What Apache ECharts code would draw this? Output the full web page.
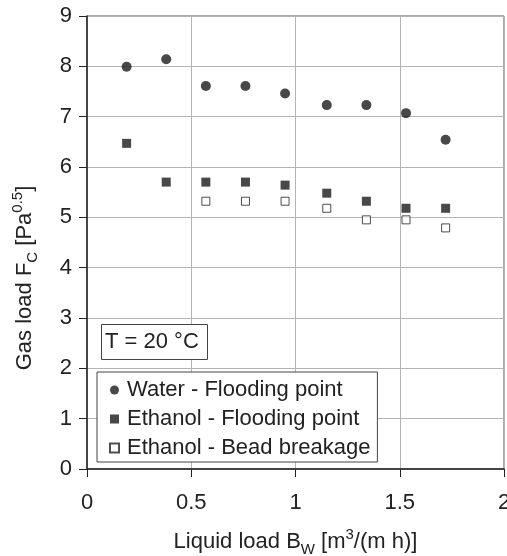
<!DOCTYPE html>
<html>
<head>
<meta charset="utf-8">
<script src="https://cdn.jsdelivr.net/npm/echarts@6/dist/echarts.min.js"></script>
<style>
  html, body { margin: 0; padding: 0; background: #fff; }
  #chart { width: 507px; height: 556px; }
</style>
</head>
<body>
<div id="chart"></div>
<script>
// Liquid load B_W [m3/(m h)]
const liquidLoad = [0.19, 0.38, 0.57, 0.76, 0.95, 1.15, 1.34, 1.53, 1.72];
// Gas load F_C [Pa^0.5]
const waterFlooding = [7.99, 8.14, 7.61, 7.61, 7.46, 7.23, 7.23, 7.07, 6.54];
const ethanolFlooding = [6.47, 5.70, 5.70, 5.70, 5.64, 5.48, 5.32, 5.18, 5.18];
const ethanolBead = [null, null, 5.32, 5.32, 5.32, 5.18, 4.95, 4.95, 4.79];

const seriesNames = ['Water - Flooding point', 'Ethanol - Flooding point', 'Ethanol - Bead breakage'];
const xTicks = [0, 0.5, 1, 1.5, 2];
const yTicks = [0, 1, 2, 3, 4, 5, 6, 7, 8, 9];

const FONT = '"Liberation Sans", Arial, sans-serif';
const INK = '#222';

function pairs(ys) {
  return liquidLoad.map((x, i) => [x, ys[i]]).filter(p => p[1] != null);
}

const chart = echarts.init(document.getElementById('chart'), null, { renderer: 'canvas' });

chart.setOption({
  animation: false,
  backgroundColor: '#fff',
  textStyle: { fontFamily: FONT, color: INK },
  grid: {
    left: 87, right: 3, top: 16, bottom: 87,
    containLabel: false,
    outerBoundsMode: 'none',
    show: true, borderColor: '#555', borderWidth: 1, backgroundColor: 'transparent'
  },
  title: {
    text: 'T = 20 °C',
    left: 101, top: 324,
    padding: [5, 9, 6, 4],
    borderColor: '#444', borderWidth: 1,
    backgroundColor: '#fff',
    textStyle: { fontFamily: FONT, fontSize: 22, fontWeight: 'normal', color: INK, lineHeight: 25 }
  },
  legend: {
    orient: 'vertical',
    left: 97, top: 372,
    padding: [7, 7, 3, 12],
    itemGap: 7,
    itemWidth: 9, itemHeight: 9,
    borderColor: '#444', borderWidth: 1,
    backgroundColor: '#fff',
    data: seriesNames,
    textStyle: { fontFamily: FONT, fontSize: 22, color: INK, lineHeight: 22, padding: [0, 0, 0, 3] }
  },
  xAxis: {
    type: 'value',
    min: xTicks[0], max: xTicks[xTicks.length - 1], interval: 0.5,
    axisLine: { show: true, onZero: false, lineStyle: { color: INK, width: 1.5 } },
    axisTick: { show: true, inside: false, length: 8, lineStyle: { color: INK, width: 1 } },
    splitLine: { show: true, lineStyle: { color: '#b4b4b4', width: 1 } },
    axisLabel: { fontFamily: FONT, fontSize: 22, color: INK, margin: 23, showMaxLabel: true },
    name: 'Liquid load B{sub|W} [m{sup|3}/(m h)]',
    nameLocation: 'middle',
    nameGap: 58,
    nameTextStyle: {
      fontFamily: FONT, fontSize: 22, color: INK, lineHeight: 30,
      rich: {
        sub: { fontFamily: FONT, fontSize: 15, color: INK, verticalAlign: 'bottom', lineHeight: 22 },
        sup: { fontFamily: FONT, fontSize: 15, color: INK, verticalAlign: 'top', lineHeight: 22 }
      }
    }
  },
  yAxis: {
    type: 'value',
    min: yTicks[0], max: yTicks[yTicks.length - 1], interval: 1,
    axisLine: { show: true, onZero: false, lineStyle: { color: INK, width: 1.5 } },
    axisTick: { show: true, inside: false, length: 8, lineStyle: { color: INK, width: 1 } },
    splitLine: { show: true, lineStyle: { color: '#b4b4b4', width: 1 } },
    axisLabel: { fontFamily: FONT, fontSize: 22, color: INK, margin: 15 }
  },
  graphic: [{
    type: 'text',
    x: 25, y: 278,
    rotation: Math.PI / 2,
    style: {
      text: 'Gas load F{sub|C} [Pa{sup|0.5}]',
      font: '22px ' + FONT,
      fill: INK,
      align: 'center',
      verticalAlign: 'middle',
      lineHeight: 30,
      rich: {
        sub: { fontFamily: FONT, fontSize: 15, fill: INK, verticalAlign: 'bottom', lineHeight: 22 },
        sup: { fontFamily: FONT, fontSize: 15, fill: INK, verticalAlign: 'top', lineHeight: 22 }
      }
    }
  }],
  series: [
    {
      name: seriesNames[0], type: 'scatter', symbol: 'circle', symbolSize: 10,
      itemStyle: { color: '#1a1a1a' },
      data: pairs(waterFlooding), z: 3
    },
    {
      name: seriesNames[1], type: 'scatter', symbol: 'rect', symbolSize: 9,
      itemStyle: { color: '#1a1a1a' },
      data: pairs(ethanolFlooding), z: 3
    },
    {
      name: seriesNames[2], type: 'scatter', symbol: 'rect', symbolSize: 8,
      itemStyle: { color: '#fff', borderColor: '#222', borderWidth: 1 },
      data: pairs(ethanolBead), z: 4
    }
  ]
});
</script>
</body>
</html>
